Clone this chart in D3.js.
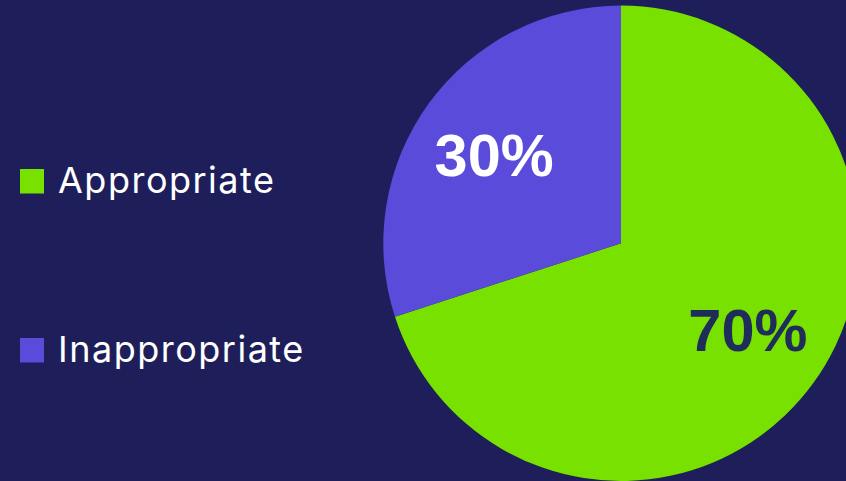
<!DOCTYPE html>
<html><head><meta charset="utf-8">
<script src="https://cdn.jsdelivr.net/npm/d3@7"></script>
<style>html,body{margin:0;padding:0;background:#1e1f5a;overflow:hidden}</style>
</head><body>
<svg id="c" width="846" height="481"></svg>
<script>
const categories = ["Appropriate", "Inappropriate"];
const values = [70, 30];
const labels = ["70%", "30%"];
const colors = ["#78e100", "#5a4bdb"];
const labelColors = ["#1f2d5a", "#ffffff"];

const svg = d3.select("#c");
svg.append("rect").attr("width", 846).attr("height", 481).attr("fill", "#1e1f5a");

const cx = 621, cy = 243.3, r = 237.7;
const data = categories.map((c, i) => ({cat: c, v: values[i], lab: labels[i], col: colors[i], lc: labelColors[i]}));
const pie = d3.pie().value(d => d.v).sort(null);
const arc = d3.arc().innerRadius(0).outerRadius(r);
const g = svg.append("g").attr("transform", `translate(${cx},${cy})`);
const arcs = pie(data);
g.selectAll("path").data(arcs).join("path").attr("d", arc).attr("fill", d => d.data.col);

const labelArcX = d3.arc().innerRadius(r * 0.66).outerRadius(r * 0.66);
const labelArcY = d3.arc().innerRadius(r * 0.625).outerRadius(r * 0.625);
g.selectAll("text").data(arcs).join("text")
  .attr("x", d => labelArcX.centroid(d)[0])
  .attr("y", d => labelArcY.centroid(d)[1])
  .attr("text-anchor", "middle")
  .attr("dominant-baseline", "central")
  .attr("font-family", "Liberation Sans, Arial, sans-serif")
  .attr("font-weight", "bold")
  .attr("font-size", 59.5)
  .attr("fill", d => d.data.lc)
  .text(d => d.data.lab);

const legY = [181.5, 350.5];
const leg = svg.append("g");
data.forEach((d, i) => {
  leg.append("rect").attr("x", 20).attr("y", legY[i] - 12.5).attr("width", 24).attr("height", 24.5).attr("fill", d.col);
  leg.append("text").attr("x", 58).attr("y", legY[i] + 11.5)
    .attr("font-family", "Inter, 'Noto Sans', sans-serif")
    .attr("font-size", 36).attr("letter-spacing", 1.5).attr("fill", "#ffffff")
    .text(d.cat);
});
</script>
</body></html>
